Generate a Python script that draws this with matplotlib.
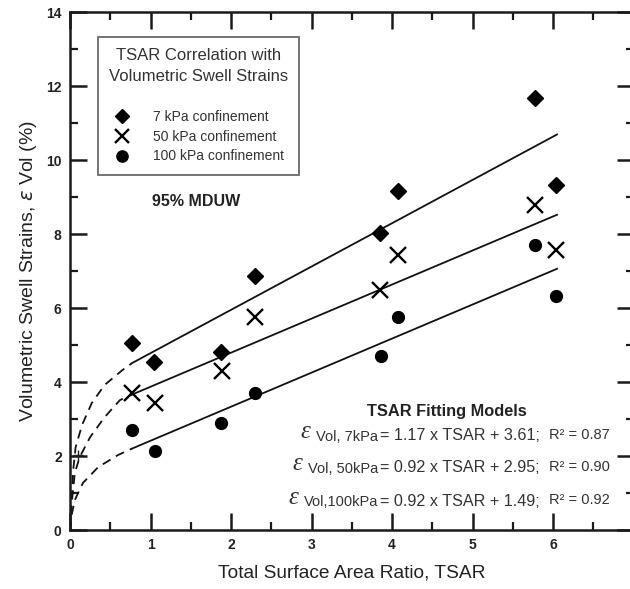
import numpy as np
import matplotlib
matplotlib.use('Agg')
import matplotlib.pyplot as plt
from matplotlib.ticker import MultipleLocator

# measured points
tsar_7 = [0.77, 1.04, 1.88, 2.30, 3.85, 4.07, 5.78, 6.04]
vol_7 = [5.05, 4.54, 4.81, 6.86, 8.03, 9.16, 11.68, 9.32]
tsar_50 = [0.77, 1.06, 1.89, 2.30, 3.85, 4.07, 5.78, 6.04]
vol_50 = [3.70, 3.43, 4.30, 5.76, 6.49, 7.43, 8.78, 7.57]
tsar_100 = [0.77, 1.06, 1.88, 2.30, 3.86, 4.07, 5.78, 6.04]
vol_100 = [2.70, 2.14, 2.89, 3.70, 4.70, 5.76, 7.70, 6.32]

# fitted lines (end points)
fit_x = [0.77, 6.05]
fit_7 = [4.51, 10.69]
fit_50 = [3.66, 8.52]
fit_100 = [2.20, 7.06]

# dashed extrapolation toward origin
dash_x_7 = [0.0, 0.02, 0.04, 0.07, 0.15, 0.27, 0.43, 0.65, 0.77]
dash_y_7 = [0.0, 0.80, 1.62, 2.24, 2.84, 3.43, 3.92, 4.32, 4.51]
dash_x_50 = [0.0, 0.02, 0.06, 0.12, 0.25, 0.43, 0.62, 0.77]
dash_y_50 = [0.0, 0.70, 1.54, 1.97, 2.51, 3.05, 3.51, 3.66]
dash_x_100 = [0.0, 0.02, 0.06, 0.16, 0.35, 0.60, 0.77]
dash_y_100 = [0.0, 0.40, 0.81, 1.27, 1.70, 2.03, 2.20]

plus_x = [0.10]
plus_y = [2.03]

labels = ['7 kPa confinement', '50 kPa confinement', '100 kPa confinement']
eq_sub = ['Vol, 7kPa', 'Vol, 50kPa', 'Vol,100kPa']
eq_main = ['= 1.17 x TSAR + 3.61;', '= 0.92 x TSAR + 2.95;', '= 0.92 x TSAR + 1.49;']
eq_r2 = ['R\u00b2 = 0.87', 'R\u00b2 = 0.90', 'R\u00b2 = 0.92']

plt.rcParams.update({
    'font.family': ['Liberation Sans', 'DejaVu Sans'],
    'axes.linewidth': 1.8,
    'axes.edgecolor': '#1a1a1a',
})

fig = plt.figure(figsize=(6.3, 5.89), dpi=100)
ax = fig.add_axes([70 / 630, 59 / 589, 563.5 / 630, 518 / 589])

# dashed parts
for dx, dy in [(dash_x_7, dash_y_7), (dash_x_50, dash_y_50), (dash_x_100, dash_y_100)]:
    ax.plot(dx, dy, color='#111', lw=1.3, ls=(0, (5, 3.5)))
# fitted lines
for fy in [fit_7, fit_50, fit_100]:
    ax.plot(fit_x, fy, color='#111', lw=1.3)

ax.plot(plus_x, plus_y, ls='none', marker='+', ms=7, mew=1.0, color='#222')

h1, = ax.plot(tsar_7, vol_7, ls='none', marker='D', ms=8, color='black', label=labels[0])
h2, = ax.plot(tsar_50, vol_50, ls='none', marker='x', ms=11, mew=1.7, color='black', label=labels[1])
h3, = ax.plot(tsar_100, vol_100, ls='none', marker='o', ms=8.5, color='black', label=labels[2])

ax.set_xlim(0, 7)
ax.set_ylim(0, 14)
ax.xaxis.set_major_locator(MultipleLocator(1))
ax.xaxis.set_minor_locator(MultipleLocator(0.5))
ax.yaxis.set_major_locator(MultipleLocator(2))
ax.yaxis.set_minor_locator(MultipleLocator(1))
ax.tick_params(which='both', direction='in', top=True, right=True, color='#1a1a1a')
ax.tick_params(which='major', length=12, width=1.8)
ax.tick_params(which='minor', length=5.5, width=1.6)
ax.tick_params(axis='x', which='major', pad=6)
ax.tick_params(axis='y', which='major', pad=6)
for lab in ax.get_xticklabels() + ax.get_yticklabels():
    lab.set_fontweight('bold')
    lab.set_fontsize(10)
    lab.set_color('#222')

ax.set_xlabel('Total Surface Area Ratio, TSAR', fontsize=13.8, color='#222', labelpad=9)
ax.set_ylabel('Volumetric Swell Strains, $\\varepsilon$ Vol (%)', fontsize=14, color='#222', labelpad=5)

leg = ax.legend(handles=[h1, h2, h3], loc='upper left', bbox_to_anchor=(0.0497, 0.9517),
                borderaxespad=0, fontsize=10, title='TSAR Correlation with\nVolumetric Swell Strains\n',
                title_fontsize=12, frameon=True, fancybox=False, edgecolor='#444',
                handlelength=1.2, handletextpad=1.6, labelspacing=0.42, borderpad=0.8,
                markerscale=0.95)
leg.get_frame().set_linewidth(1.3)
leg.get_title().set_multialignment('center')
leg.get_title().set_color('#333')
leg.get_title().set_linespacing(1.45)
for t in leg.get_texts():
    t.set_color('#333')

ax.text(1.57, 8.88, '95% MDUW', fontsize=11.5, fontweight='bold', ha='center', va='center', color='#222')
ax.text(4.68, 3.2, 'TSAR Fitting Models', fontsize=11.8, fontweight='bold', ha='center', va='center', color='#222')

eq_y = [2.55, 1.68, 0.78]
for i in range(3):
    t = ax.text(3.85, eq_y[i], eq_main[i], fontsize=11.6, ha='left', va='center', color='#333')
    sub = ax.annotate(eq_sub[i], xy=(0, 0), xycoords=t, xytext=(-1.5, -0.5), textcoords='offset points',
                      ha='right', va='bottom', fontsize=10.5, color='#333')
    ax.annotate('\u03b5', xy=(0, 0), xycoords=sub, xytext=(-4, 0.5), textcoords='offset points',
                ha='right', va='bottom', fontsize=18, style='italic', family='Liberation Serif', color='#333')
    ax.annotate(eq_r2[i], xy=(1, 0), xycoords=t, xytext=(6.5, 1), textcoords='offset points',
                ha='left', va='bottom', fontsize=10.5, color='#333')

fig.savefig('out.png', dpi=100)
